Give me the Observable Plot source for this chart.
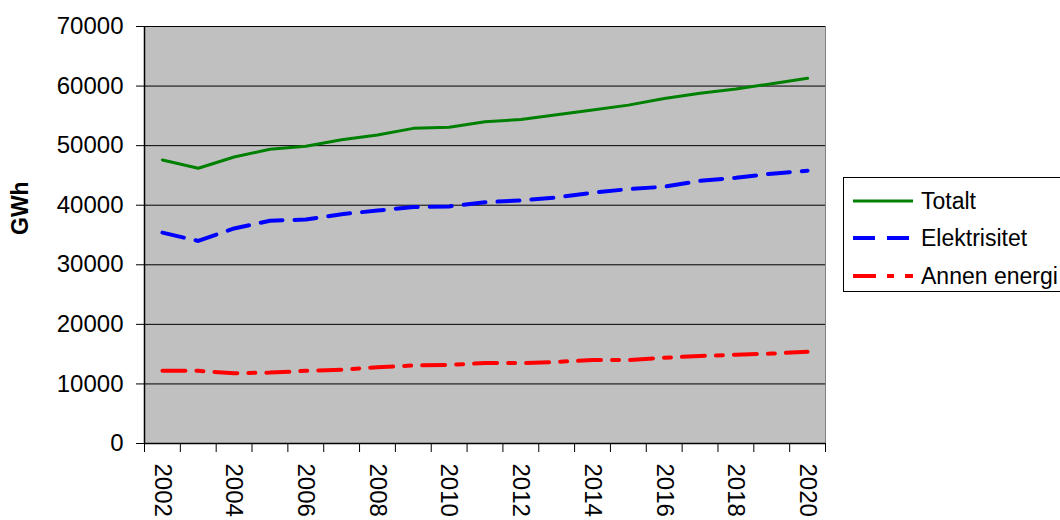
<!DOCTYPE html>
<html>
<head>
<meta charset="utf-8">
<script src="https://cdn.jsdelivr.net/npm/d3@7"></script>
<script src="https://cdn.jsdelivr.net/npm/@observablehq/plot@0.6"></script>
<style>
  body { margin: 0; background: #fff; }
  #wrap { position: relative; width: 1060px; height: 520px; overflow: hidden; font-family: "Liberation Sans", Arial, sans-serif; }
  #legend { position: absolute; left: 843px; top: 177px; width: 260px; height: 115px; border: 1px solid #000; background: #fff; box-sizing: border-box; }
  .entry { position: absolute; left: 9px; height: 30px; display: flex; align-items: center; font-size: 23px; color: #000; white-space: nowrap; }
  .entry svg { margin-right: 8px; }
</style>
</head>
<body>
<div id="wrap">
  <div id="chart"></div>
  <div id="legend"></div>
</div>
<script>
const years = [2002, 2003, 2004, 2005, 2006, 2007, 2008, 2009, 2010, 2011, 2012, 2013, 2014, 2015, 2016, 2017, 2018, 2019, 2020];
const totalt = [47600, 46200, 48100, 49400, 49900, 51000, 51800, 52900, 53100, 54000, 54400, 55200, 56000, 56800, 57900, 58800, 59500, 60400, 61300];
const elektrisitet = [35400, 34000, 36100, 37400, 37600, 38500, 39100, 39700, 39800, 40500, 40800, 41300, 42100, 42700, 43100, 44100, 44600, 45300, 45800];
const annen = [12200, 12200, 11800, 11900, 12200, 12400, 12800, 13100, 13200, 13500, 13500, 13700, 14000, 14000, 14400, 14700, 14900, 15100, 15400];
const yTicks = [0, 10000, 20000, 30000, 40000, 50000, 60000, 70000];
const xLabelYears = [2002, 2004, 2006, 2008, 2010, 2012, 2014, 2016, 2018, 2020];
const seriesNames = ["Totalt", "Elektrisitet", "Annen energi"];
const seriesColors = ["#008000", "#0000ff", "#ff0000"];
const seriesDash = [null, "22,12", "23,11,7,11"];

const boundaries = [years[0] - 0.5, ...years.map(y => y + 0.5)];
const rows = years.map((y, i) => ({year: y, totalt: totalt[i], elektrisitet: elektrisitet[i], annen: annen[i]}));
const font = "Liberation Sans, Arial, sans-serif";

const chart = Plot.plot({
  width: 1060,
  height: 520,
  marginLeft: 144,
  marginRight: 235,
  marginTop: 26,
  marginBottom: 77,
  style: {fontFamily: font, background: "#fff", overflow: "visible"},
  x: {domain: [boundaries[0], boundaries[boundaries.length - 1]]},
  y: {domain: [0, 70000]},
  marks: [
    Plot.frame({fill: "#c0c0c0", stroke: "#808080"}),
    Plot.ruleY(yTicks, {stroke: "#000", strokeWidth: 1}),
    Plot.axisY({ticks: yTicks, tickSize: 8, tickPadding: 13, tickFormat: d => String(d), fontSize: 24, label: null, stroke: "#000"}),
    Plot.axisX({ticks: boundaries, tickSize: 9, tickFormat: () => "", label: null, stroke: "#000"}),
    Plot.axisX({ticks: xLabelYears, tickSize: 0, tickPadding: 20, tickRotate: 90, tickFormat: d => String(d), fontSize: 24, label: null}),
    Plot.ruleX([boundaries[0]], {stroke: "#000", strokeWidth: 1.5}),
    Plot.ruleY([0], {stroke: "#000", strokeWidth: 1.5}),
    Plot.line(rows, {x: "year", y: "totalt", stroke: seriesColors[0], strokeWidth: 3}),
    Plot.line(rows, {x: "year", y: "elektrisitet", stroke: seriesColors[1], strokeWidth: 4, strokeDasharray: seriesDash[1]}),
    Plot.line(rows, {x: "year", y: "annen", stroke: seriesColors[2], strokeWidth: 4, strokeDasharray: seriesDash[2]}),
    Plot.text(["GWh"], {frameAnchor: "left", dx: -124, rotate: -90, fontWeight: "bold", fontSize: 23, fill: "#000"})
  ]
});
document.getElementById("chart").appendChild(chart);

const legend = document.getElementById("legend");
const tops = [8, 45, 83];
seriesNames.forEach((name, i) => {
  const e = document.createElement("div");
  e.className = "entry";
  e.style.top = tops[i] + "px";
  const dash = seriesDash[i] ? `stroke-dasharray="${seriesDash[i]}"` : "";
  e.innerHTML = `<svg width="60" height="10"><line x1="0" y1="5" x2="60" y2="5" stroke="${seriesColors[i]}" stroke-width="${i === 0 ? 3 : 4}" ${dash}/></svg><span>${name}</span>`;
  legend.appendChild(e);
});
</script>
</body>
</html>
